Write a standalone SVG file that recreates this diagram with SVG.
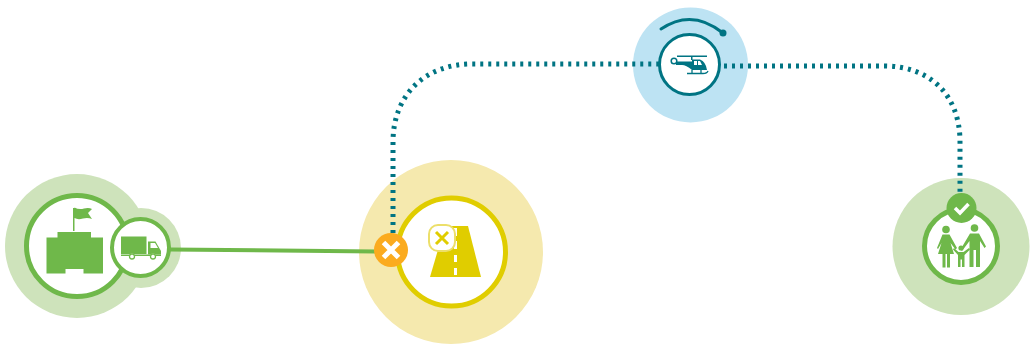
<svg xmlns="http://www.w3.org/2000/svg" width="1030" height="345" viewBox="0 0 1030 345">
<style>
.w{fill:#fff}
.g{fill:#6fb84a}
.gs{fill:none;stroke:#6fb84a}
.gb{fill:#cee3bb}
.y{fill:#e0cd00}
.t{fill:#007483}
.d{fill:none;stroke:#007483;stroke-width:5;stroke-dasharray:3 5}
</style>
<rect width="1030" height="345" fill="#fff"/>
<g id="halos">
<circle class="gb" cx="77" cy="246" r="72"/>
<circle class="gb" cx="141" cy="248" r="40"/>
<circle cx="451" cy="252" r="92" fill="#f5e9ae"/>
<circle cx="690.500" cy="65" r="57.500" fill="#bde3f3"/>
<circle class="gb" cx="961" cy="246.500" r="68.500"/>
</g>
<g id="connectors">
<path class="d" d="M393 233V142C393 95 425 64 472 64H660"/>
<path class="d" d="M724 66H884C930 66 960 95 960 142V196"/>
<path d="M170 249.500L376 251.500" fill="none" stroke="#6fb84a" stroke-width="4"/>
</g>
<g id="depot">
<circle class="w" cx="77" cy="246" r="50.500"/>
<circle class="gs" cx="77" cy="246" r="50.500" stroke-width="5"/>
<path class="g" d="M46.500 237.500H57.500V232H91V237.500H103V273.500H83.500V269H65.500V273.500H46.500Z"/>
<path class="g" d="M73 231V208H74.500V207.500Q79 210 84 208.500Q89 207.500 92 209L88 213L92 219Q88 217.500 83 218.500Q78 220 74.500 218V231Z"/>
</g>
<g id="truck">
<circle class="w" cx="140.500" cy="247.500" r="28.500"/>
<circle class="gs" cx="140.500" cy="247.500" r="28.500" stroke-width="4"/>
<rect class="g" x="121" y="236.500" width="25.500" height="17.500"/>
<path class="g" d="M148 241.500H155.500L161 251V254.500H148Z"/>
<path class="w" d="M150.500 243H155L158 248H150.500Z"/>
<rect class="g" x="121" y="254.500" width="40" height="1.500"/>
<circle class="w" cx="132" cy="256.500" r="3"/>
<circle cx="132" cy="256.500" r="2.500" fill="none" stroke="#6fb84a" stroke-width="1.300"/>
<circle class="w" cx="153" cy="256.500" r="3"/>
<circle cx="153" cy="256.500" r="2.500" fill="none" stroke="#6fb84a" stroke-width="1.300"/>
</g>
<g id="road">
<circle class="w" cx="451.500" cy="252" r="54"/>
<circle cx="451.500" cy="252" r="54" fill="none" stroke="#e0cd00" stroke-width="5"/>
<path class="y" d="M445 226H468L481 277H430Z"/>
<g class="w"><rect x="454" y="228" width="3" height="8"/><rect x="454" y="241" width="3" height="8"/><rect x="454" y="255" width="3" height="7"/><rect x="454" y="268" width="3" height="7"/></g>
<rect x="429" y="225" width="26" height="26" rx="9" fill="#fff" stroke="#ecdf6a" stroke-width="2"/>
<path d="M436 232L448 244M448 232L436 244" fill="none" stroke="#e0cd00" stroke-width="3"/>
</g>
<g id="blocked">
<circle cx="391" cy="250" r="17" fill="#fbab1f"/>
<path d="M383.500 242.500L398.500 257.500M398.500 242.500L383.500 257.500" fill="none" stroke="#fff" stroke-width="5"/>
</g>
<g id="helicopter">
<circle class="w" cx="689.500" cy="64.500" r="30"/>
<circle cx="689.500" cy="64.500" r="30" fill="none" stroke="#007483" stroke-width="3"/>
<path d="M661 29Q692 8 723 33" fill="none" stroke="#007483" stroke-width="3" stroke-linecap="round"/>
<circle class="t" cx="723" cy="33" r="3.500"/>
<rect class="t" x="677" y="55.500" width="30" height="1.500"/>
<rect class="t" x="691" y="56" width="1.500" height="4"/>
<path class="t" d="M676 61.500H692V59.500H700Q706 62 707 70H692Q686 65 682 65H676Z"/>
<circle cx="674" cy="61" r="2.800" fill="#fff" stroke="#007483" stroke-width="1.500"/>
<path class="w" d="M694 61H697V65H694ZM698 61H700L702 65H698Z"/>
<path d="M687 73.500H703Q707 73.500 708 71M692 70V73.500M701 70V73.500" fill="none" stroke="#007483" stroke-width="1.300"/>
</g>
<g id="family">
<circle class="w" cx="961" cy="246" r="36.500"/>
<circle class="gs" cx="961" cy="246" r="36.500" stroke-width="5"/>
<circle class="g" cx="946" cy="229.500" r="3.800"/>
<path class="g" d="M942.500 234.500H949.500L957 248L955.500 249.500L950.500 243L954 254H950V267.500H947V254H945.500V267.500H942.500V254H938L941.500 243L938 249L937 248Z"/>
<circle class="g" cx="974.500" cy="228" r="3.800"/>
<path class="g" d="M970 233.500H979L986 246.500L984.500 248L980 241V267H976V250H973.500V267H969.500V241L962 251L960.500 249.500Z"/>
<circle class="g" cx="961" cy="248" r="2.600"/>
<path class="g" d="M958.500 252H963.500L969 248L970 249.500L964.500 255V267H962V259.500H960.500V267H958V255L953 249.500L954 248Z"/>
</g>
<g id="safe">
<circle class="g" cx="961.500" cy="208" r="15"/>
<path d="M955 208L960 213L968.500 204" fill="none" stroke="#fff" stroke-width="3.500"/>
</g>
</svg>
